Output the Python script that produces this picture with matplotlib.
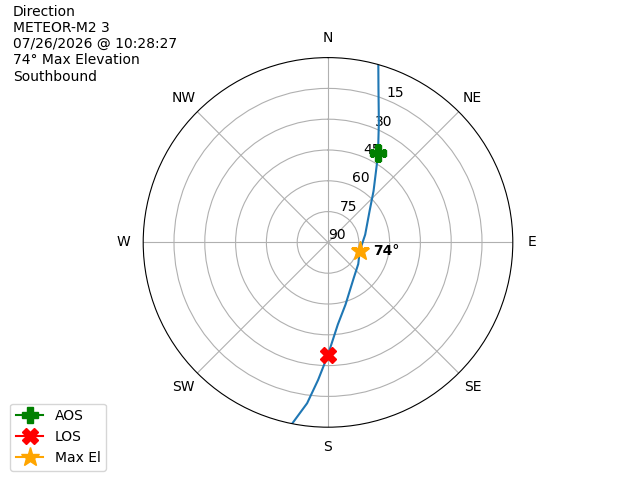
import numpy as np
import matplotlib
matplotlib.use("Agg")
import matplotlib.pyplot as plt

# Pass track (azimuth in degrees, elevation in degrees)
track_az = [15.8, 18.2, 23.0, 28.3, 31.2, 41.6, 53.1, 78.2, 105.0, 125.5,
            143.8, 164.2, 173.2, 180.1, 184.1, 187.4, 191.2]
track_el = [0.0, 11.3, 26.6, 38.5, 43.7, 56.6, 64.7, 71.5, 74.0, 71.9,
            68.7, 58.6, 49.7, 35.0, 22.9, 11.0, 0.0]

aos_az, aos_el = 29.2, 40.0
los_az, los_el = 180.1, 35.0
max_az, max_el = 105.0, 74.0

dir_labels = ["N", "NE", "E", "SE", "S", "SW", "W", "NW"]
dir_angles = [0, 45, 90, 135, 180, 225, 270, 315]
r_ticks = [0, 15, 30, 45, 60, 75]
r_tick_labels = ["90", "75", "60", "45", "30", "15"]

info_lines = ["Direction", "METEOR-M2 3", "07/26/2026 @ 10:28:27",
              "74\u00b0 Max Elevation", "Southbound"]

fig = plt.figure(figsize=(6.4, 4.8), dpi=100)
ax = fig.add_subplot(111, projection="polar")
ax.set_theta_zero_location("N")
ax.set_theta_direction(-1)

ax.plot(np.radians(track_az), 90 - np.array(track_el), color="C0")
ax.plot(np.radians(aos_az), 90 - aos_el, marker="P", color="green",
        markersize=12, label="AOS")
ax.plot(np.radians(los_az), 90 - los_el, marker="X", color="red",
        markersize=12, label="LOS")
ax.plot(np.radians(max_az), 90 - max_el, marker="*", color="orange",
        markersize=14, label="Max El")
ax.annotate(f"{int(max_el)}\u00b0", (np.radians(max_az), 90 - max_el),
            xytext=(10, 0), textcoords="offset points", va="center",
            ha="left", fontweight="bold")

ax.set_rlim(0, 90)
ax.set_yticks(r_ticks)
ax.set_yticklabels(r_tick_labels)
ax.set_thetagrids(dir_angles, dir_labels)

fig.text(0.02, 0.99, "\n".join(info_lines), ha="left", va="top")
fig.legend(loc="lower left", bbox_to_anchor=(0.005, 0.005))

fig.savefig("out.png", dpi=100)
